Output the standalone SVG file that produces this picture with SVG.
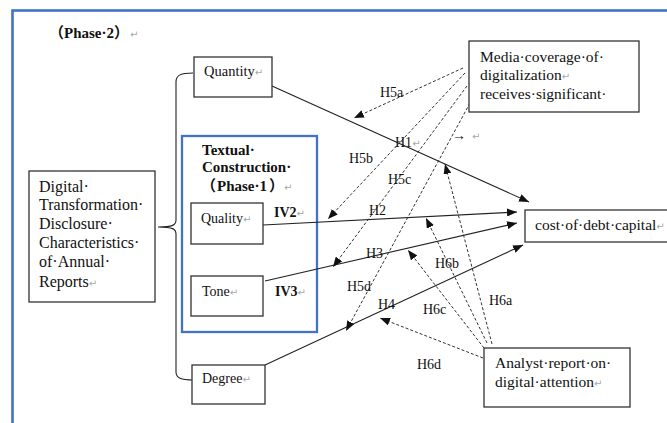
<svg xmlns="http://www.w3.org/2000/svg" width="667" height="423" viewBox="0 0 667 423">
  <style>
    .t { font-family: "Liberation Serif", "Times New Roman", "Noto Sans CJK SC", serif; fill: #111; }
    .b { font-weight: bold; }
    .pm { fill: #a8a8a8; font-family: "DejaVu Sans", sans-serif; font-size: 10px; font-weight: normal; }
    .box { fill: #fff; stroke: #333; stroke-width: 1.3; }
    .frame { fill: none; stroke: #4472C4; stroke-width: 2.6; }
    .solid { fill: none; stroke: #222; stroke-width: 1.1; marker-end: url(#ah); }
    .dash { fill: none; stroke: #333; stroke-width: 1; stroke-dasharray: 3 2; marker-end: url(#ah); }
    .lbl { font-size: 14px; }
  </style>
  <defs>
    <marker id="ah" viewBox="0 0 10 8" refX="10" refY="4" markerWidth="10" markerHeight="8" markerUnits="userSpaceOnUse" orient="auto">
      <path d="M0,0 L10,4 L0,8 z" fill="#111"/>
    </marker>
  </defs>

  <rect width="667" height="423" fill="#fff"/>

  <!-- outer phase-2 frame -->
  <rect class="frame" x="12.5" y="10.5" width="720" height="480"/>
  <text class="t b" x="49" y="38" font-size="15"><tspan>（</tspan><tspan x="64">Phase·2</tspan><tspan x="114">）</tspan><tspan class="pm" x="130">↵</tspan></text>

  <!-- brace grouping the four dimensions -->
  <g id="brace">
    <path d="M193,73 C181,73 176,75 176,82 L176,220 C176,225 173,227 158,227 C173,227 176,229 176,234 L176,372 C176,378 181,380 193,380" fill="none" stroke="#222" stroke-width="1.1"/>
  </g>

  <!-- phase-1 textual construction frame -->
  <g id="textual-construction">
    <rect x="182" y="136" width="135" height="196" fill="none" stroke="#4472C4" stroke-width="2.3"/>
    <text class="t b" x="202" y="155" font-size="15">Textual·</text>
    <text class="t b" x="202" y="172" font-size="15">Construction·</text>
    <text class="t b" x="201" y="191" font-size="15"><tspan>（</tspan><tspan x="217">Phase·1</tspan><tspan x="269">）</tspan><tspan class="pm" x="284">↵</tspan></text>
  </g>

  <!-- connectors -->
  <g id="connectors">
    <path class="solid" d="M272,86 L529,202"/>
    <path class="solid" d="M263,225 L517,212"/>
    <path class="solid" d="M265,281 L517,223"/>
    <path class="solid" d="M265,365 L523,245"/>

    <path class="dash" d="M463,68 L354,118"/>
    <path class="dash" d="M465,73 L328,219"/>
    <path class="dash" d="M467,86 L333,267"/>
    <path class="dash" d="M470,103 L346,331"/>

    <path class="dash" d="M492,344 L445,164"/>
    <path class="dash" d="M487,343 L426,218"/>
    <path class="dash" d="M484,348 L408,250"/>
    <path class="dash" d="M483,358 L380,318"/>
  </g>

  <!-- hypothesis labels -->
  <g id="labels" class="t lbl">
    <text x="380" y="97">H5a</text>
    <text x="395" y="147">H1<tspan class="pm">↵</tspan></text>
    <text x="452" y="140">→ <tspan class="pm" x="472">↵</tspan></text>
    <text x="349" y="163">H5b</text>
    <text x="388" y="184">H5c</text>
    <text x="369" y="215">H2</text>
    <text x="366" y="258">H3</text>
    <text x="435" y="268">H6b</text>
    <text x="347" y="291">H5d</text>
    <text x="378" y="309">H4</text>
    <text x="423" y="314">H6c</text>
    <text x="489" y="305">H6a</text>
    <text x="417" y="369">H6d</text>
    <text class="b" x="274" y="217">IV2<tspan class="pm">↵</tspan></text>
    <text class="b" x="275" y="296">IV3<tspan class="pm">↵</tspan></text>
  </g>

  <g id="digital-transformation">
    <rect class="box" x="29" y="171" width="126" height="131"/>
    <text class="t" font-size="16">
      <tspan x="39" y="192">Digital·</tspan>
      <tspan x="39" y="210">Transformation·</tspan>
      <tspan x="39" y="229">Disclosure·</tspan>
      <tspan x="39" y="248">Characteristics·</tspan>
      <tspan x="39" y="267">of·Annual·</tspan>
      <tspan x="39" y="287">Reports<tspan class="pm">↵</tspan></tspan>
    </text>
  </g>

  <g id="quantity">
    <rect class="box" x="194" y="57" width="78" height="40"/>
    <text class="t" x="204" y="76" font-size="14.5">Quantity<tspan class="pm">↵</tspan></text>
  </g>

  <g id="quality">
    <rect class="box" x="191" y="203" width="72" height="41"/>
    <text class="t" x="201" y="223" font-size="14">Quality<tspan class="pm">↵</tspan></text>
  </g>

  <g id="tone">
    <rect class="box" x="191" y="276" width="72" height="40"/>
    <text class="t" x="202" y="296" font-size="14">Tone<tspan class="pm">↵</tspan></text>
  </g>

  <g id="degree">
    <rect class="box" x="192" y="365" width="73" height="39"/>
    <text class="t" x="202" y="383" font-size="14">Degree<tspan class="pm">↵</tspan></text>
  </g>

  <g id="media-coverage">
    <rect class="box" x="469" y="41" width="170" height="71"/>
    <text class="t" font-size="15.5">
      <tspan x="480" y="62">Media·coverage·of·</tspan>
      <tspan x="480" y="80">digitalization<tspan class="pm">↵</tspan></tspan>
      <tspan x="480" y="99">receives·significant·</tspan>
    </text>
  </g>

  <g id="cost-of-debt">
    <rect class="box" x="525" y="210" width="150" height="32"/>
    <text class="t" x="535" y="230" font-size="15.5">cost·of·debt·capital<tspan class="pm">↵</tspan></text>
  </g>

  <g id="analyst-report">
    <rect class="box" x="484" y="348" width="146" height="59"/>
    <text class="t" font-size="15.5">
      <tspan x="495" y="368">Analyst·report·on·</tspan>
      <tspan x="495" y="387">digital·attention<tspan class="pm">↵</tspan></tspan>
    </text>
  </g>
</svg>
